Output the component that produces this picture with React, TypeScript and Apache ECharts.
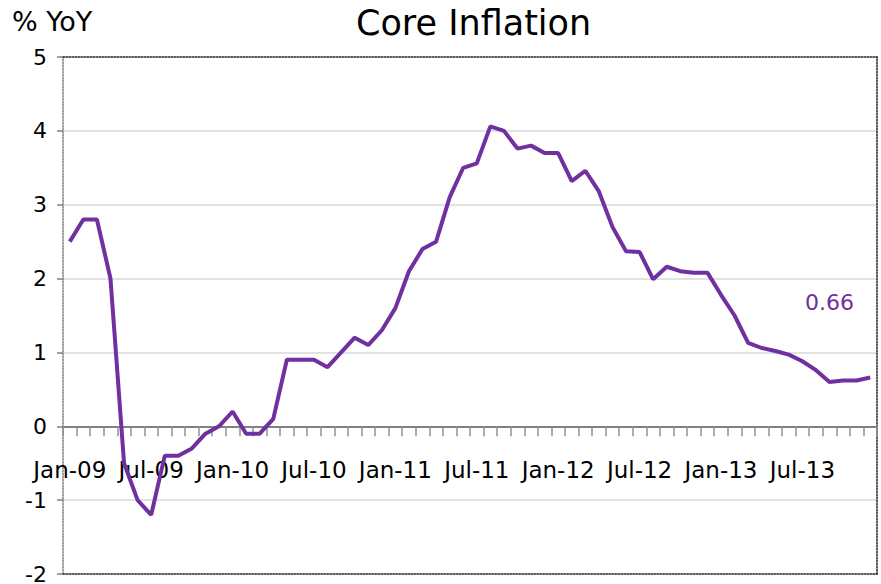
import React, { useEffect, useRef } from "react";
import * as echarts from "echarts";

const categories = [
  "Jan-09","Feb-09","Mar-09","Apr-09","May-09","Jun-09","Jul-09","Aug-09","Sep-09","Oct-09","Nov-09","Dec-09",
  "Jan-10","Feb-10","Mar-10","Apr-10","May-10","Jun-10","Jul-10","Aug-10","Sep-10","Oct-10","Nov-10","Dec-10",
  "Jan-11","Feb-11","Mar-11","Apr-11","May-11","Jun-11","Jul-11","Aug-11","Sep-11","Oct-11","Nov-11","Dec-11",
  "Jan-12","Feb-12","Mar-12","Apr-12","May-12","Jun-12","Jul-12","Aug-12","Sep-12","Oct-12","Nov-12","Dec-12",
  "Jan-13","Feb-13","Mar-13","Apr-13","May-13","Jun-13","Jul-13","Aug-13","Sep-13","Oct-13","Nov-13","Dec-13",
];

const coreInflation = [
  2.5, 2.8, 2.8, 2.0, -0.5, -1.0, -1.2, -0.4, -0.4, -0.3, -0.1, 0.0,
  0.2, -0.1, -0.1, 0.1, 0.9, 0.9, 0.9, 0.8, 1.0, 1.2, 1.1, 1.3,
  1.6, 2.1, 2.4, 2.5, 3.1, 3.5, 3.56, 4.06, 4.0, 3.76, 3.8, 3.7,
  3.7, 3.32, 3.46, 3.18, 2.7, 2.37, 2.36, 1.99, 2.16, 2.1, 2.08, 2.08,
  1.78, 1.5, 1.13, 1.06, 1.02, 0.97, 0.88, 0.76, 0.6, 0.62, 0.62, 0.66,
];

const title = "Core Inflation";
const unitLabel = "% YoY";
const lastValueLabel = "0.66";
const yMin = -2;
const yMax = 5;
const yInterval = 1;

const FONT = "DejaVu Sans";
const PURPLE = "#7030A0";

export default function App() {
  const ref = useRef<HTMLDivElement>(null);
  useEffect(() => {
    if (!ref.current) return;
    const chart = echarts.init(ref.current, null, { renderer: "svg" });
    const splitColors = ["transparent", "#d9d9d9", "#d9d9d9", "#d9d9d9", "#d9d9d9", "#d9d9d9", "#d9d9d9", "transparent"];
    const gridHeight = 584 - 57 - 10;
    const zeroOffset = -Math.round((gridHeight * (0 - yMin)) / (yMax - yMin));
    chart.setOption({
      animation: false,
      backgroundColor: "#ffffff",
      textStyle: { fontFamily: FONT },
      title: {
        text: title,
        left: 351,
        top: 0,
        textStyle: { fontFamily: FONT, fontSize: 35, fontWeight: "normal", color: "#000" },
      },
      graphic: [
        {
          type: "text",
          left: 12,
          top: 8,
          style: { text: unitLabel, fontFamily: FONT, fontSize: 27, fill: "#000" },
        },
        {
          type: "text",
          left: 805,
          top: 291,
          style: { text: lastValueLabel, fontFamily: FONT, fontSize: 22, fill: PURPLE },
        },
      ],
      grid: { left: 63, right: 4, top: 57, bottom: 10, containLabel: false, outerBoundsMode: "none" },
      xAxis: [
        {
          type: "category",
          data: categories,
          boundaryGap: true,
          position: "bottom",
          axisLine: { show: true, onZero: true, lineStyle: { color: "#808080", width: 2 } },
          axisTick: { show: true, interval: 0, length: 10, lineStyle: { color: "#909090", width: 1.5 } },
          axisLabel: { show: false },
          splitLine: { show: false },
        },
        {
          type: "category",
          data: categories,
          position: "top",
          axisLine: { show: true, onZero: false, lineStyle: { color: "#222", type: "dotted", width: 1.5 } },
          axisTick: { show: false },
          axisLabel: { show: false },
          splitLine: { show: false },
        },
        {
          type: "category",
          data: categories,
          position: "bottom",
          axisLine: { show: true, onZero: false, lineStyle: { color: "#222", type: "dotted", width: 1.5 } },
          axisTick: { show: false },
          axisLabel: { show: false },
          splitLine: { show: false },
        },
        {
          type: "category",
          data: categories,
          boundaryGap: true,
          position: "bottom",
          offset: zeroOffset,
          axisLine: { show: false, onZero: false },
          axisTick: { show: false },
          axisLabel: { interval: 5, margin: 32, fontSize: 23, color: "#000", fontFamily: FONT },
          splitLine: { show: false },
        },
      ],
      yAxis: [
        {
          type: "value",
          min: yMin,
          max: yMax,
          interval: yInterval,
          position: "left",
          axisLine: { show: true, lineStyle: { color: "#808080", type: "dotted", width: 1.5 } },
          axisTick: { show: true, length: 6, lineStyle: { color: "#808080", width: 1.5 } },
          axisLabel: { fontSize: 22, color: "#000", margin: 16, fontFamily: FONT },
          splitLine: { show: true, lineStyle: { color: splitColors, width: 1.5 } },
        },
        {
          type: "value",
          min: yMin,
          max: yMax,
          interval: yInterval,
          position: "right",
          axisLine: { show: true, lineStyle: { color: "#222", type: "dotted", width: 1.5 } },
          axisTick: { show: false },
          axisLabel: { show: false },
          splitLine: { show: false },
        },
      ],
      series: [
        {
          type: "line",
          name: title,
          xAxisIndex: 0,
          yAxisIndex: 0,
          data: coreInflation,
          showSymbol: false,
          symbol: "none",
          lineStyle: { color: PURPLE, width: 4 },
          itemStyle: { color: PURPLE },
        },
      ],
    });
    return () => chart.dispose();
  }, []);
  return <div ref={ref} style={{ width: 881, height: 584, position: "absolute", left: 0, top: 0 }} />;
}
